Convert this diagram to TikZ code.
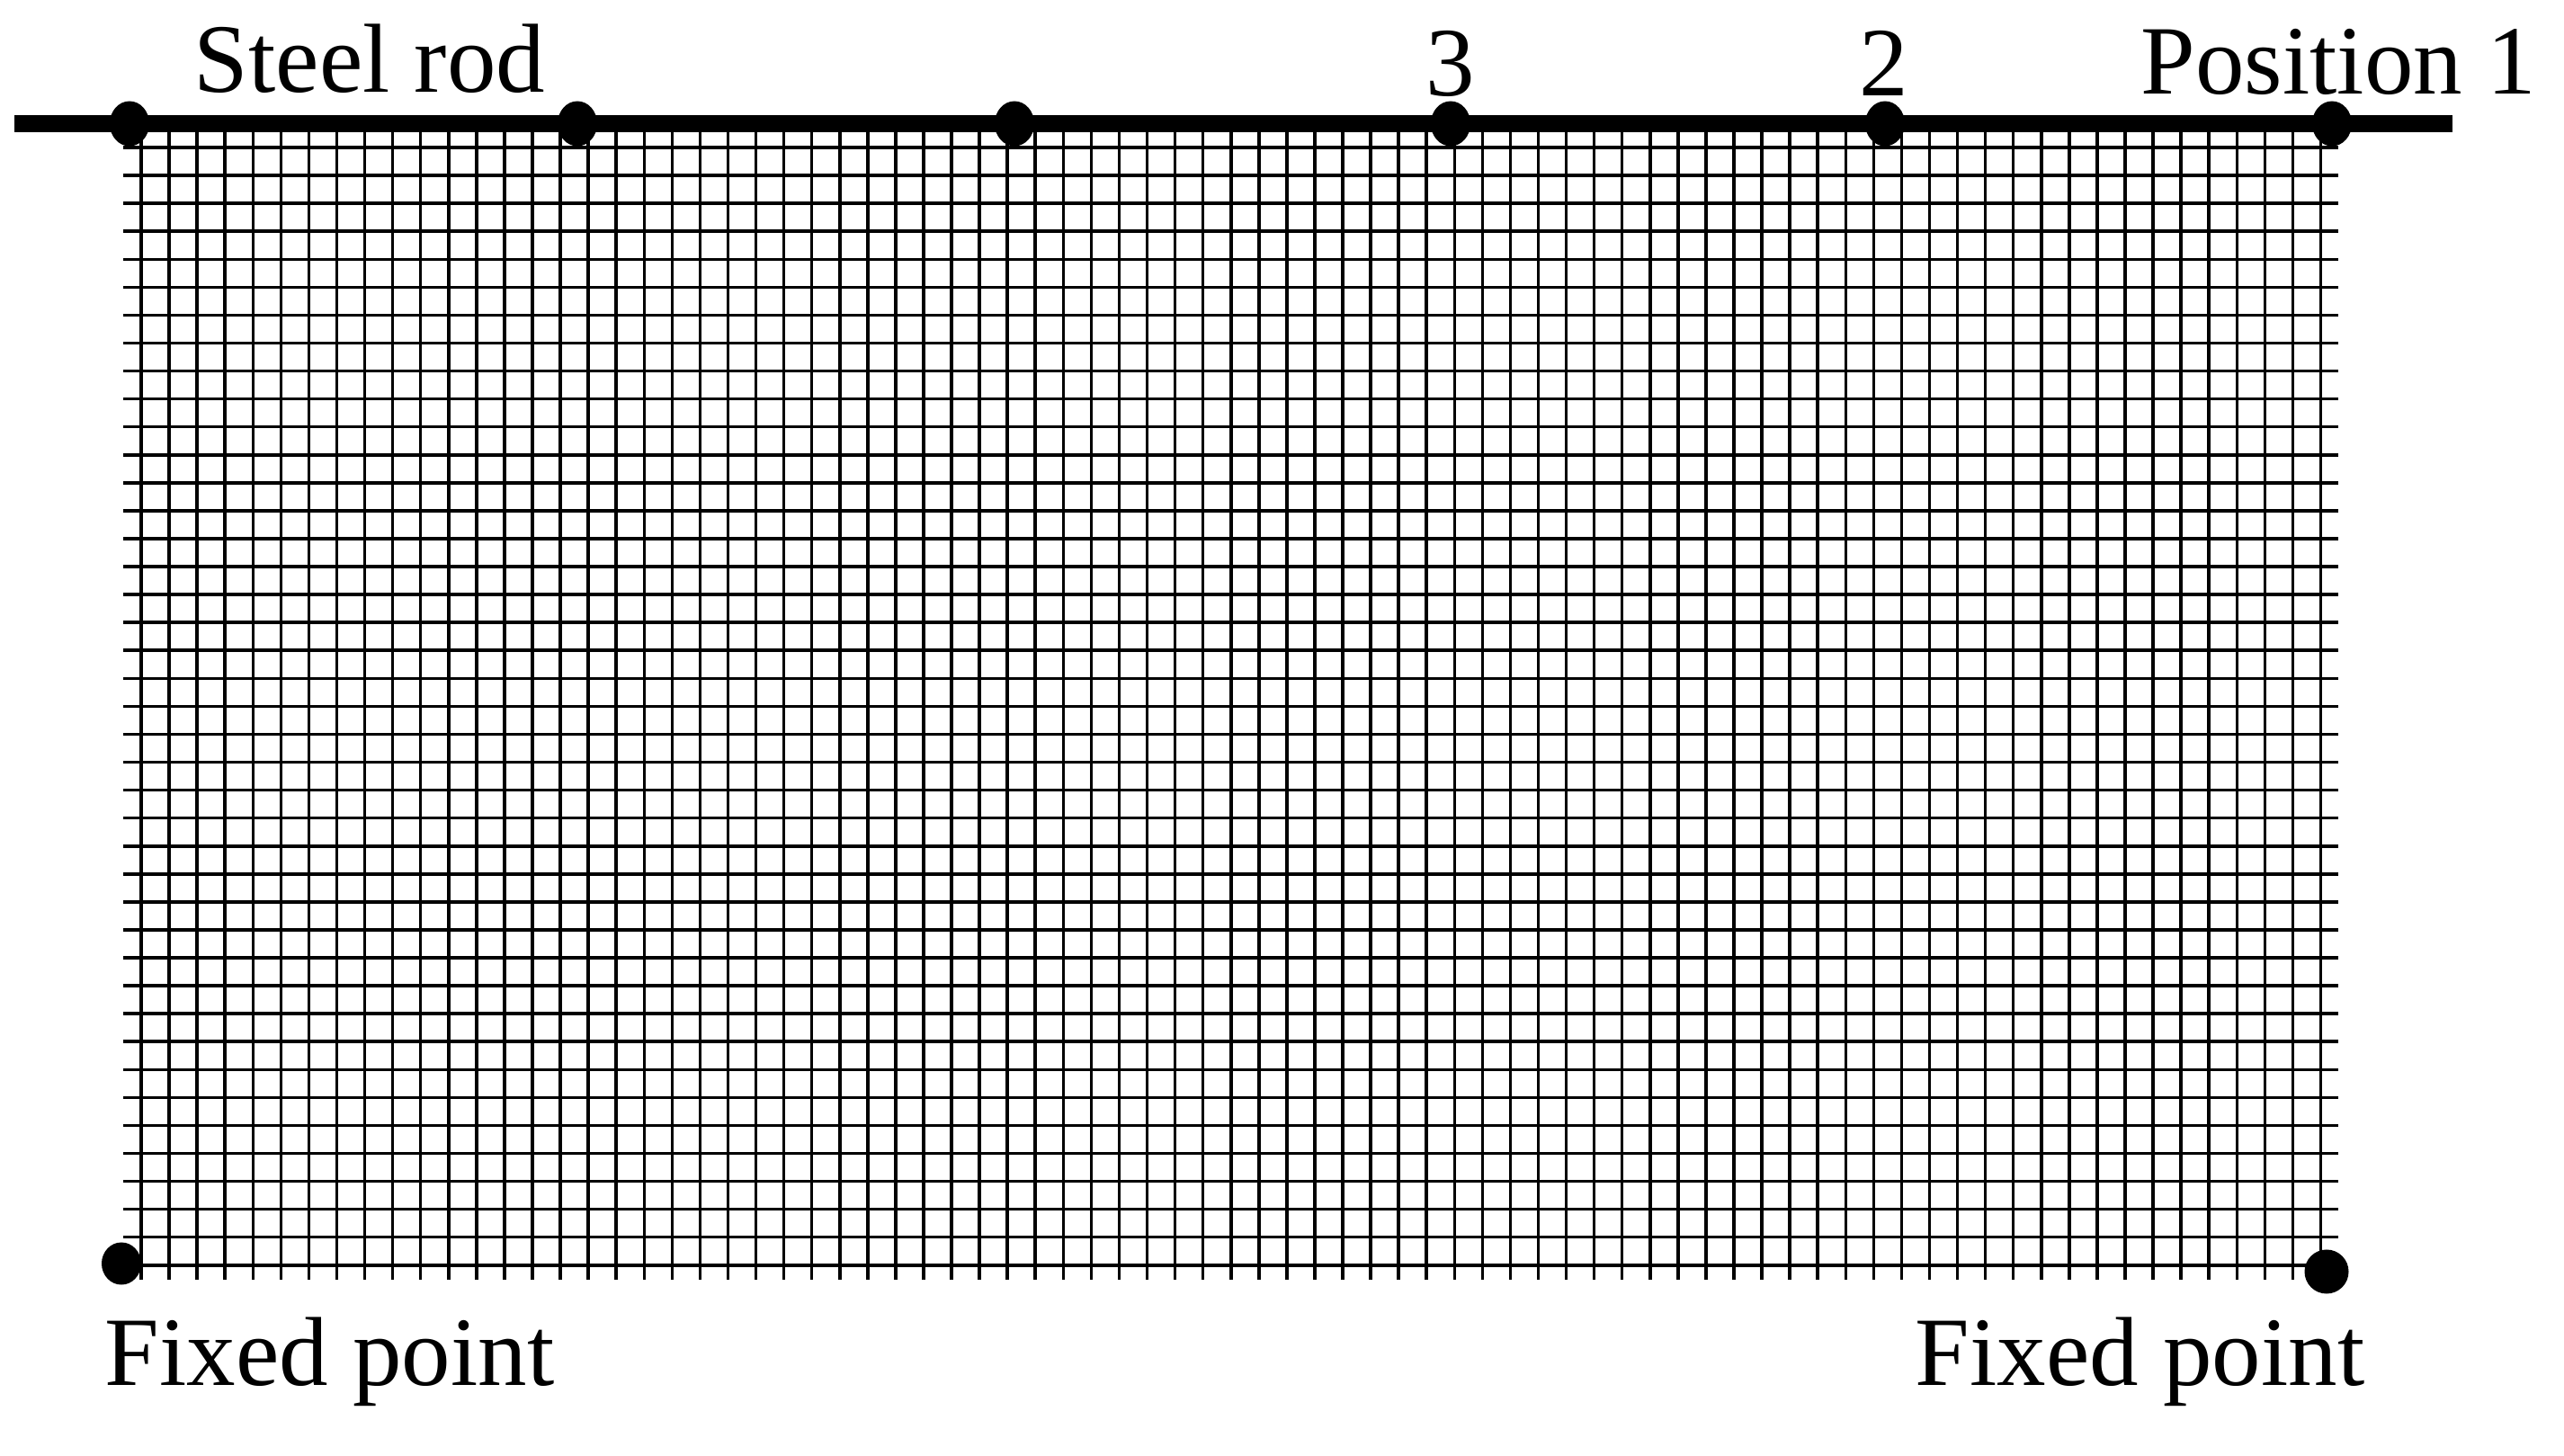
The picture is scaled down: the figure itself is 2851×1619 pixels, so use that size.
\documentclass[tikz,border=0pt]{standalone}
\usepackage{fontspec}
\setmainfont{Liberation Serif}
\usetikzlibrary{shapes,positioning}

\begin{document}
\begin{tikzpicture}[
        x=0.01cm,
        y=-0.01cm,
        rodpoint/.style={
            ellipse,
            fill=black,
            inner sep=0pt,
            minimum width=0.44cm,
            minimum height=0.50cm
        },
        label/.style={
            inner sep=0pt,
            anchor=base west,
            font=\fontsize{31}{36}\selectfont
        }
    ]
                \useasboundingbox (0,0) rectangle (2851,1619);

                % mesh
                \foreach \i in {0,...,78} {
                    \draw[
                        line width=1pt
                    ] (157+\i*31.07,137) to (157+\i*31.07,1423);
                }
                \foreach \j in {0,...,40} {
                    \draw[
                        line width=1pt
                    ] (137,164+\j*31.07) to (2600,164+\j*31.07);
                }

                % rod
                \coordinate (rodleft) at (16,137.5);
                \coordinate (rodright) at (2727,137.5);
                \draw[
                    -,
                    line width=5.4pt
                ] (rodleft) to (rodright);

                \node[rodpoint] (p6) at (144,137.5) {};
                \node[rodpoint] (p5) at (642,137.5) {};
                \node[rodpoint] (p4) at (1128,137.5) {};
                \node[rodpoint] (p3) at (1613,137.5) {};
                \node[rodpoint] (p2) at (2096,137.5) {};
                \node[rodpoint] (p1) at (2593,137.5) {};

                \node[rodpoint, minimum width=0.44cm, minimum height=0.47cm] (fixleft) at (135,1405) {};
                \node[rodpoint, minimum width=0.49cm, minimum height=0.49cm] (fixright) at (2587,1414) {};

                % labels
                \node[label] (rodlabel) at (215,103) {Steel rod};
                \node[label, anchor=base] (pos3) at (1613,107) {3};
                \node[label, anchor=base] (pos2) at (2095,107) {2};
                \node[label] (pos1) at (2380,105) {Position 1};
                \node[label] (fixleftlabel) at (116,1540) {Fixed point};
                \node[label] (fixrightlabel) at (2129,1540) {Fixed point};

\end{tikzpicture}
\end{document}
